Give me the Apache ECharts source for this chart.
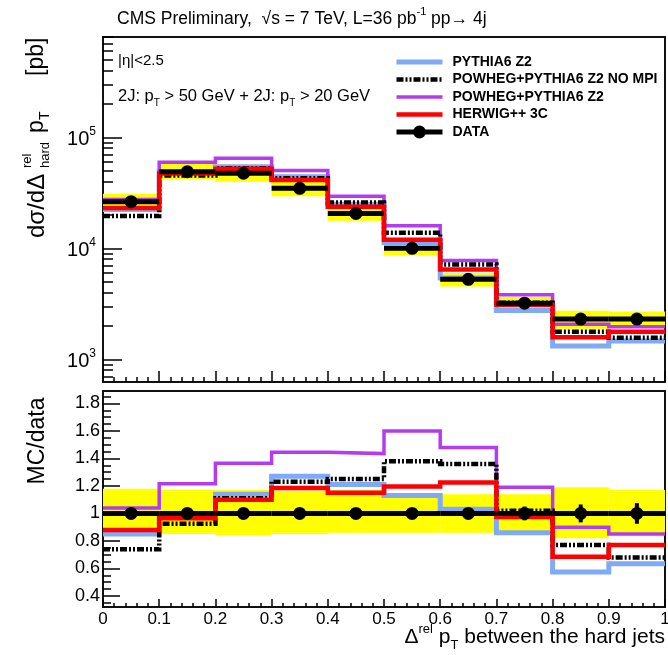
<!DOCTYPE html>
<html>
<head>
<meta charset="utf-8">
<script src="https://cdn.jsdelivr.net/npm/echarts@6/dist/echarts.min.js"></script>
<style>
  html, body { margin: 0; padding: 0; background: #fff; }
  #chart { width: 668px; height: 655px; }
</style>
</head>
<body>
<div id="chart"></div>
<script>
// Bin edges of Δ^rel pT between the hard jets
const binEdges = [0, 0.1, 0.2, 0.3, 0.4, 0.5, 0.6, 0.7, 0.8, 0.9, 1.0];

// Measured cross section [pb], statistical and systematic relative uncertainties
const dataXsec = [26300, 49000, 47400, 34700, 20600, 10000, 5250, 3200, 2300, 2300];
const dataStatRel = [0.01, 0.008, 0.008, 0.01, 0.012, 0.015, 0.02, 0.05, 0.065, 0.075];
const systUpRel = [0.18, 0.17, 0.17, 0.165, 0.17, 0.14, 0.14, 0.14, 0.19, 0.17];
const systDownRel = [0.16, 0.15, 0.16, 0.15, 0.14, 0.14, 0.14, 0.14, 0.18, 0.15];

// Generator predictions [pb]
const pythiaXsec = [22400, 49000, 54200, 44100, 24900, 11300, 5400, 2750, 1320, 1460];
const powhegNoMpiXsec = [19500, 45300, 52500, 42700, 25800, 13800, 7150, 3230, 1770, 1560];
const powhegXsec = [27500, 59600, 64700, 50200, 29500, 16000, 7770, 3810, 2070, 1960];
const herwigXsec = [23100, 47300, 52100, 41200, 23700, 11950, 6430, 3100, 1580, 1770];

// MC / data ratios
const pythiaRatio = [0.85, 1.0, 1.14, 1.27, 1.21, 1.13, 1.03, 0.86, 0.575, 0.635];
const powhegNoMpiRatio = [0.74, 0.925, 1.11, 1.23, 1.25, 1.38, 1.36, 1.02, 0.77, 0.68];
const powhegRatio = [1.04, 1.215, 1.365, 1.445, 1.435, 1.60, 1.48, 1.19, 0.90, 0.85];
const herwigRatio = [0.88, 0.965, 1.10, 1.185, 1.15, 1.195, 1.225, 0.975, 0.685, 0.77];

// Axis ticks
const logMajorTicks = [1000, 10000, 100000];
const logMinorTicks = [700, 800, 900, 2000, 3000, 4000, 5000, 6000, 7000, 8000, 9000,
  20000, 30000, 40000, 50000, 60000, 70000, 80000, 90000,
  200000, 300000, 400000, 500000, 600000, 700000, 800000];
const ratioMajorTicks = [0.4, 0.6, 0.8, 1, 1.2, 1.4, 1.6, 1.8];
const ratioMinorTicks = [0.35, 0.45, 0.5, 0.55, 0.65, 0.7, 0.75, 0.85, 0.9, 0.95,
  1.05, 1.1, 1.15, 1.25, 1.3, 1.35, 1.45, 1.5, 1.55, 1.65, 1.7, 1.75, 1.85];

const FONT = "'Liberation Sans', Arial, Helvetica, sans-serif";
const C_PYTHIA = '#80aaf5';
const C_POWHEG = '#b43cf0';
const C_HERWIG = '#ff0000';
const C_BAND = '#ffff00';

const names = {
  pythia: 'PYTHIA6 Z2',
  nompi: 'POWHEG+PYTHIA6 Z2 NO MPI',
  powheg: 'POWHEG+PYTHIA6 Z2',
  herwig: 'HERWIG++ 3C',
  data: 'DATA'
};

function stepPoints(values) {
  return binEdges.map((e, i) => [e, values[Math.min(i, values.length - 1)]]);
}

function histSeries(name, values, panel, color, width, dash, z) {
  return {
    name, type: 'line', step: 'end',
    xAxisIndex: panel, yAxisIndex: panel === 0 ? 0 : 2,
    data: stepPoints(values),
    symbol: 'none', showSymbol: false,
    lineStyle: { color, width, type: dash || 'solid', cap: 'butt', join: 'miter' },
    itemStyle: { color },
    z, animation: false, silent: true, clip: true
  };
}

function renderBand(params, api) {
  const a = api.coord([api.value(0), api.value(3)]);
  const b = api.coord([api.value(1), api.value(2)]);
  return {
    type: 'rect',
    shape: { x: a[0], y: a[1], width: b[0] - a[0], height: b[1] - a[1] },
    style: { fill: C_BAND }
  };
}

function renderData(params, api) {
  const x0 = api.value(0), x1 = api.value(1), y = api.value(2);
  const pl = api.coord([x0, y]), pr = api.coord([x1, y]);
  const xm = (x0 + x1) / 2;
  const plo = api.coord([xm, api.value(3)]), phi = api.coord([xm, api.value(4)]);
  return {
    type: 'group',
    children: [
      { type: 'line', shape: { x1: pl[0], y1: pl[1], x2: pr[0], y2: pr[1] }, style: { stroke: '#000', lineWidth: 5 } },
      { type: 'line', shape: { x1: plo[0], y1: plo[1], x2: phi[0], y2: phi[1] }, style: { stroke: '#000', lineWidth: 4 } },
      { type: 'circle', shape: { cx: (pl[0] + pr[0]) / 2, cy: pl[1], r: 6.5 }, style: { fill: '#000' } }
    ]
  };
}

const bins = binEdges.slice(0, -1);
const bandTop = bins.map((x0, i) => [x0, binEdges[i + 1], dataXsec[i] * (1 - systDownRel[i]), dataXsec[i] * (1 + systUpRel[i])]);
const bandRatio = bins.map((x0, i) => [x0, binEdges[i + 1], 1 - systDownRel[i], 1 + systUpRel[i]]);
const pointsTop = bins.map((x0, i) => [x0, binEdges[i + 1], dataXsec[i], dataXsec[i] * (1 - dataStatRel[i]), dataXsec[i] * (1 + dataStatRel[i])]);
const pointsRatio = bins.map((x0, i) => [x0, binEdges[i + 1], 1, 1 - dataStatRel[i], 1 + dataStatRel[i]]);

const tickLine = { color: '#000', width: 1.5 };

function rt(size) {
  return {
    n: { fontSize: size, fontFamily: FONT, color: '#000', lineHeight: size + 8, verticalAlign: 'middle' },
    sup: { fontSize: Math.round(size * 0.62), fontFamily: FONT, color: '#000', lineHeight: Math.round(size * 0.62), verticalAlign: 'top' },
    sub: { fontSize: Math.round(size * 0.62), fontFamily: FONT, color: '#000', lineHeight: Math.round(size * 0.62), verticalAlign: 'bottom' }
  };
}

function txt(x, y, text, size, extra) {
  return {
    type: 'text', x, y, silent: true,
    style: Object.assign({ text, fontSize: size, fontFamily: FONT, fill: '#000', verticalAlign: 'middle', align: 'left' }, extra || {})
  };
}

const chart = echarts.init(document.getElementById('chart'), null, { renderer: 'canvas' });

chart.setOption({
  animation: false,
  backgroundColor: '#fff',
  grid: [
    { left: 103, top: 37, width: 562, height: 345, show: true, borderColor: '#111', borderWidth: 2, backgroundColor: 'transparent', outerBoundsMode: 'none', containLabel: false },
    { left: 103, top: 391, width: 562, height: 216, show: true, borderColor: '#111', borderWidth: 2, backgroundColor: 'transparent', outerBoundsMode: 'none', containLabel: false }
  ],
  xAxis: [
    {
      gridIndex: 0, type: 'value', min: 0, max: 1, interval: 0.1,
      axisLine: { show: false },
      axisTick: { show: true, inside: true, length: 11, lineStyle: tickLine },
      minorTick: { show: true, splitNumber: 5, length: 5, lineStyle: tickLine },
      axisLabel: { show: false },
      splitLine: { show: false }, minorSplitLine: { show: false }
    },
    {
      gridIndex: 1, type: 'value', min: 0, max: 1, interval: 0.1,
      axisLine: { show: false },
      axisTick: { show: true, inside: true, length: 8, lineStyle: tickLine },
      minorTick: { show: true, splitNumber: 5, length: 4, lineStyle: tickLine },
      axisLabel: { show: true, fontSize: 17, fontFamily: FONT, color: '#000', margin: 4,
        showMinLabel: true, showMaxLabel: true, hideOverlap: false },
      splitLine: { show: false }, minorSplitLine: { show: false }
    }
  ],
  yAxis: [
    {
      gridIndex: 0, type: 'log', logBase: 10, min: 624, max: 801000, position: 'left',
      axisLine: { show: false },
      axisTick: { show: true, inside: true, length: 19, lineStyle: tickLine, customValues: logMajorTicks },
      axisLabel: {
        show: true, margin: 7, customValues: logMajorTicks,
        formatter: v => '{b|10}{s|' + Math.round(Math.log10(v)) + '}',
        rich: {
          b: { fontSize: 20, fontFamily: FONT, color: '#000', lineHeight: 24, verticalAlign: 'bottom' },
          s: { fontSize: 12, fontFamily: FONT, color: '#000', lineHeight: 14, verticalAlign: 'top' }
        }
      },
      splitLine: { show: false }
    },
    {
      gridIndex: 0, type: 'log', logBase: 10, min: 624, max: 801000, position: 'left',
      axisLine: { show: false },
      axisTick: { show: true, inside: true, length: 10, lineStyle: tickLine, customValues: logMinorTicks },
      axisLabel: { show: false },
      splitLine: { show: false }
    },
    {
      gridIndex: 1, type: 'value', min: 0.32, max: 1.89, position: 'left',
      axisLine: { show: false },
      axisTick: { show: true, inside: true, length: 17, lineStyle: tickLine, customValues: ratioMajorTicks },
      axisLabel: {
        show: true, margin: 3, customValues: ratioMajorTicks,
        fontSize: 18, fontFamily: FONT, color: '#000',
        formatter: v => (Math.abs(v - 1) < 1e-9 ? '1' : v.toFixed(1))
      },
      splitLine: { show: false }
    },
    {
      gridIndex: 1, type: 'value', min: 0.32, max: 1.89, position: 'left',
      axisLine: { show: false },
      axisTick: { show: true, inside: true, length: 8, lineStyle: tickLine, customValues: ratioMinorTicks },
      axisLabel: { show: false },
      splitLine: { show: false }
    }
  ],
  legend: {
    orient: 'vertical', left: 394, top: 55, padding: 0,
    itemWidth: 46, itemHeight: 14, itemGap: 3.5,
    selectedMode: false,
    // the line entries show only their stroke, no marker
    itemStyle: { color: 'rgba(0,0,0,0)', borderWidth: 0 },
    lineStyle: { width: 'inherit' },
    textStyle: { fontFamily: FONT, fontSize: 14, fontWeight: 'bold', color: '#000', lineHeight: 14, padding: [0, 0, 0, 5] },
    data: [
      { name: names.pythia },
      { name: names.nompi },
      { name: names.powheg },
      { name: names.herwig },
      { name: names.data, itemStyle: { color: '#000' },
        icon: 'path://M0,4.5 L46,4.5 L46,9.5 L0,9.5 Z M16.5,7 A6.5,6.5 0 1,1 29.5,7 A6.5,6.5 0 1,1 16.5,7 Z' }
    ]
  },
  series: [
    // uncertainty bands
    { type: 'custom', name: 'band', xAxisIndex: 0, yAxisIndex: 0, data: bandTop, renderItem: renderBand,
      encode: { x: [0, 1], y: [2, 3] }, z: 1, silent: true, clip: true },
    { type: 'custom', name: 'bandRatio', xAxisIndex: 1, yAxisIndex: 2, data: bandRatio, renderItem: renderBand,
      encode: { x: [0, 1], y: [2, 3] }, z: 1, silent: true, clip: true },

    // upper panel
    histSeries(names.pythia, pythiaXsec, 0, C_PYTHIA, 5, null, 2),
    histSeries(names.powheg, powhegXsec, 0, C_POWHEG, 3.5, null, 3),
    histSeries(names.nompi, powhegNoMpiXsec, 0, '#000', 4.5, [7, 2, 2, 2, 2, 2], 4),
    histSeries(names.herwig, herwigXsec, 0, C_HERWIG, 4.5, null, 5),
    { type: 'custom', name: names.data, xAxisIndex: 0, yAxisIndex: 0, data: pointsTop, renderItem: renderData,
      encode: { x: [0, 1], y: [2, 3, 4] }, itemStyle: { color: '#000' }, z: 6, silent: true, clip: true },

    // ratio panel
    histSeries(names.pythia, pythiaRatio, 1, C_PYTHIA, 5, null, 2),
    histSeries(names.powheg, powhegRatio, 1, C_POWHEG, 3.5, null, 3),
    histSeries(names.nompi, powhegNoMpiRatio, 1, '#000', 4.5, [7, 2, 2, 2, 2, 2], 4),
    histSeries(names.herwig, herwigRatio, 1, C_HERWIG, 4.5, null, 5),
    { type: 'custom', name: names.data, xAxisIndex: 1, yAxisIndex: 2, data: pointsRatio, renderItem: renderData,
      encode: { x: [0, 1], y: [2, 3, 4] }, itemStyle: { color: '#000' }, z: 6, silent: true, clip: true }
  ],
  graphic: [
    // header
    {
      type: 'text', x: 117, y: 19, silent: true,
      style: {
        text: '{n|CMS Preliminary,  √s = 7 TeV, L=36 pb}{sup|-1}{n| pp→ 4j}',
        rich: rt(17.5), verticalAlign: 'middle', align: 'left'
      }
    },
    // selection annotations
    txt(118, 61, '|η|<2.5', 15),
    {
      type: 'text', x: 118, y: 96, silent: true,
      style: {
        text: '{n|2J: p}{sub|T}{n| > 50 GeV + 2J: p}{sub|T}{n| > 20 GeV}',
        rich: rt(16.5), verticalAlign: 'middle', align: 'left'
      }
    },
    // x-axis title
    {
      type: 'text', x: 665, y: 637, silent: true,
      style: {
        text: '{n|Δ}{sup|rel}{n| p}{sub|T}{n| between the hard jets}',
        rich: rt(21), verticalAlign: 'middle', align: 'right'
      }
    },
    // y-axis title, upper panel (reads bottom to top)
    {
      type: 'group', x: 37, y: 238, rotation: Math.PI / 2, silent: true,
      children: [
        txt(0, 0, 'dσ/dΔ', 24),
        txt(70, -10, 'rel', 13),
        txt(70, 8, 'hard', 13),
        txt(105, 0, 'p', 23),
        txt(118, 8, 'T', 14),
        txt(162, 0, '[pb]', 23)
      ]
    },
    // y-axis title, ratio panel
    {
      type: 'text', x: 38, y: 441, rotation: Math.PI / 2, silent: true,
      style: { text: 'MC/data', fontSize: 23, fontFamily: FONT, fill: '#000', align: 'center', verticalAlign: 'middle' }
    }
  ]
});
</script>
</body>
</html>
